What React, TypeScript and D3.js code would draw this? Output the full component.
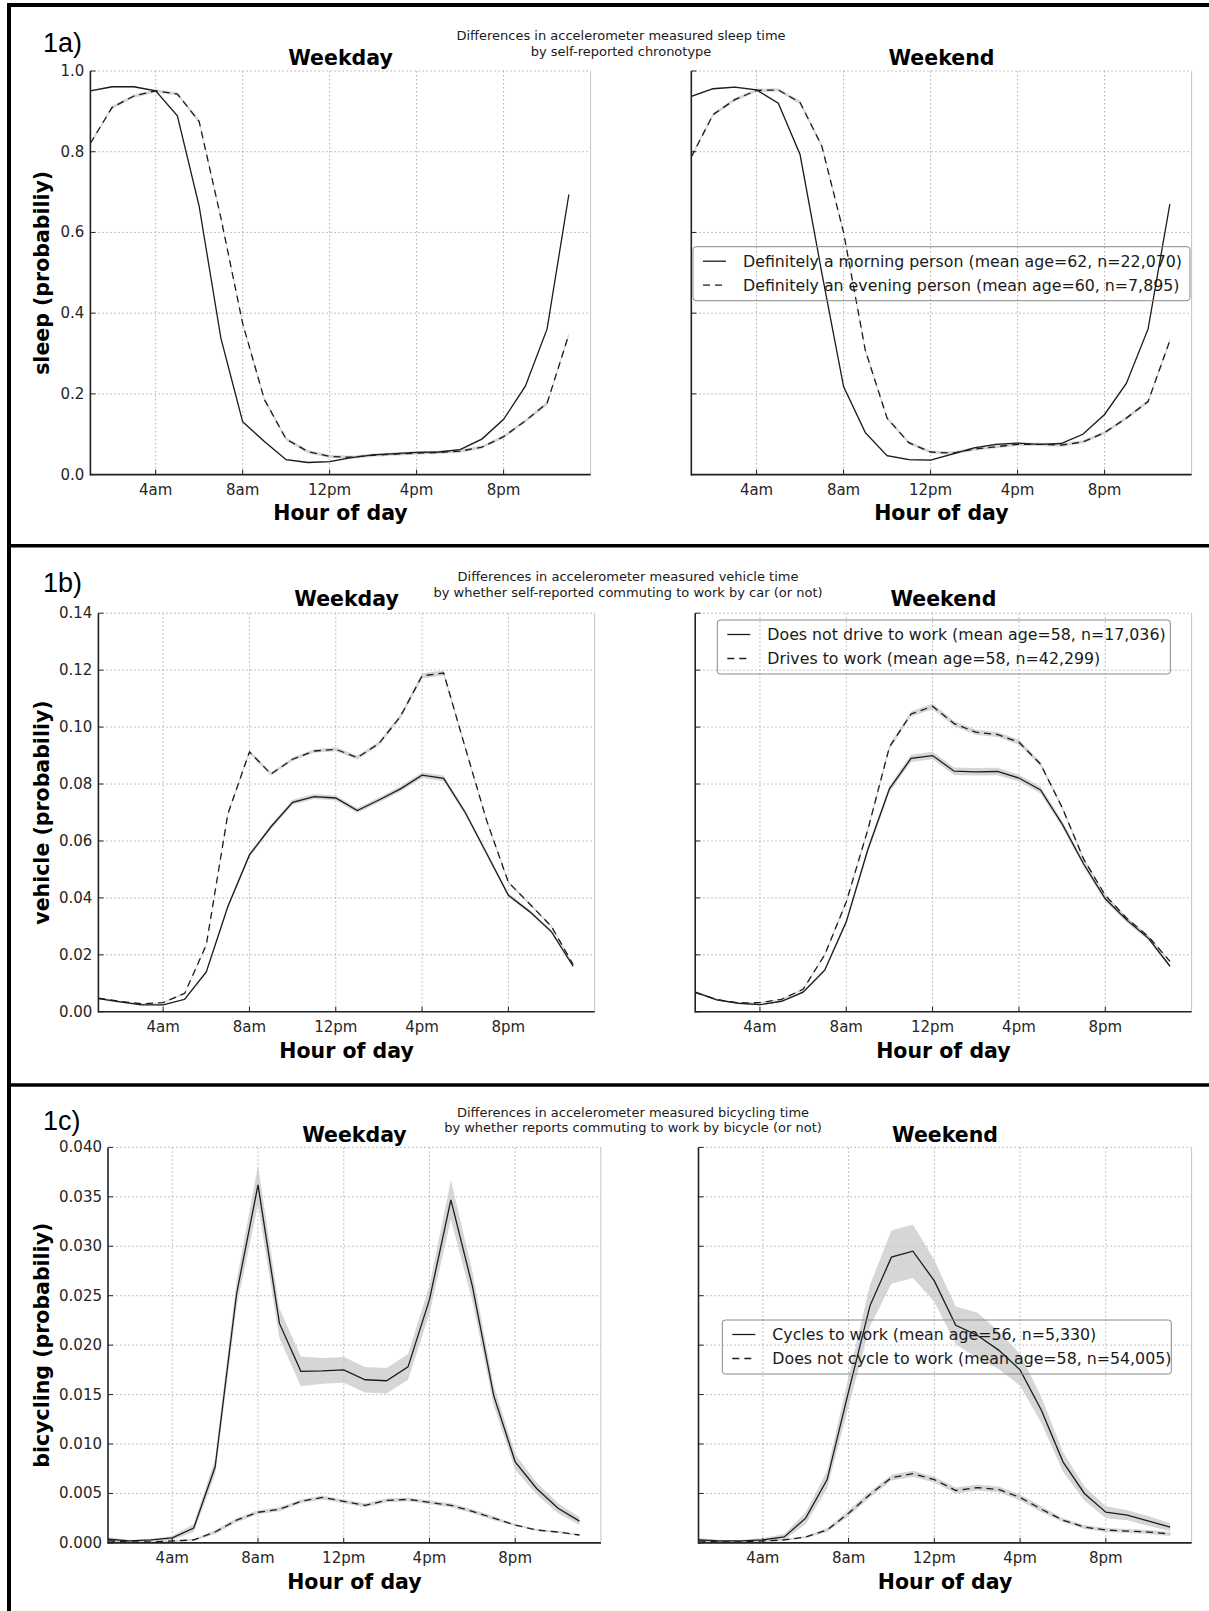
import React from 'react'
import * as d3 from 'd3'

// hour of day on the x axis (points plotted at 1..23)
const hours = [1, 2, 3, 4, 5, 6, 7, 8, 9, 10, 11, 12, 13, 14, 15, 16, 17, 18, 19, 20, 21, 22, 23]
const xTickHours = [4, 8, 12, 16, 20]
const xTickLabels = ['4am', '8am', '12pm', '4pm', '8pm']

// 1a) sleep
const sleepTicks = [0, 0.2, 0.4, 0.6, 0.8, 1.0]
const sleepWeekdayMorning = [0.951, 0.961, 0.961, 0.951, 0.889, 0.665, 0.338, 0.131, 0.082, 0.037, 0.030, 0.032, 0.042, 0.049, 0.052, 0.055, 0.056, 0.062, 0.088, 0.137, 0.219, 0.361, 0.694]
const sleepWeekdayEvening = [0.821, 0.910, 0.938, 0.951, 0.943, 0.875, 0.636, 0.375, 0.186, 0.088, 0.057, 0.045, 0.043, 0.048, 0.051, 0.053, 0.055, 0.058, 0.068, 0.094, 0.133, 0.177, 0.347]
const sleepWeekendMorning = [0.937, 0.956, 0.960, 0.953, 0.920, 0.793, 0.500, 0.218, 0.104, 0.047, 0.037, 0.036, 0.051, 0.066, 0.075, 0.078, 0.075, 0.077, 0.100, 0.149, 0.226, 0.361, 0.670]
const sleepWeekendEvening = [0.787, 0.892, 0.929, 0.952, 0.953, 0.922, 0.814, 0.600, 0.308, 0.140, 0.079, 0.056, 0.053, 0.063, 0.069, 0.075, 0.075, 0.073, 0.081, 0.104, 0.140, 0.181, 0.332]
const sleepMorningErr = [0.002, 0.002, 0.002, 0.002, 0.002, 0.003, 0.003, 0.003, 0.002, 0.002, 0.002, 0.002, 0.002, 0.002, 0.002, 0.002, 0.002, 0.002, 0.002, 0.002, 0.003, 0.003, 0.003]
const sleepEveningErr = [0.004, 0.004, 0.004, 0.004, 0.004, 0.005, 0.005, 0.005, 0.005, 0.004, 0.004, 0.004, 0.004, 0.004, 0.004, 0.004, 0.004, 0.004, 0.004, 0.004, 0.004, 0.005, 0.005]

// 1b) vehicle
const vehicleTicks = [0, 0.02, 0.04, 0.06, 0.08, 0.10, 0.12, 0.14]
const vehicleWeekdayNoDrive = [0.0046, 0.0035, 0.0024, 0.0024, 0.0044, 0.0140, 0.0370, 0.0551, 0.0650, 0.0736, 0.0756, 0.0751, 0.0707, 0.0744, 0.0783, 0.0831, 0.0820, 0.0700, 0.0555, 0.0409, 0.0351, 0.0281, 0.0160]
const vehicleWeekdayDrive = [0.0048, 0.0037, 0.0028, 0.0032, 0.0065, 0.0235, 0.0695, 0.0913, 0.0835, 0.0887, 0.0916, 0.0922, 0.0893, 0.0942, 0.1038, 0.1180, 0.1190, 0.0928, 0.0670, 0.0455, 0.0378, 0.0299, 0.0166]
const vehicleWeekendNoDrive = [0.0069, 0.0042, 0.0030, 0.0025, 0.0037, 0.0069, 0.0146, 0.0316, 0.0570, 0.0783, 0.0890, 0.0900, 0.0845, 0.0843, 0.0844, 0.0821, 0.0779, 0.0660, 0.0519, 0.0397, 0.0322, 0.0258, 0.0160]
const vehicleWeekendDrive = [0.0068, 0.0043, 0.0031, 0.0032, 0.0044, 0.0079, 0.0200, 0.0386, 0.0640, 0.0930, 0.1046, 0.1073, 0.1012, 0.0982, 0.0974, 0.0947, 0.0870, 0.0718, 0.0536, 0.0409, 0.0328, 0.0264, 0.0177]
const vehicleWeekdayNoDriveErr = [0.0003, 0.0003, 0.0002, 0.0002, 0.0003, 0.0005, 0.0007, 0.0008, 0.0008, 0.0009, 0.0009, 0.0009, 0.0009, 0.0009, 0.0009, 0.0010, 0.0010, 0.0009, 0.0008, 0.0007, 0.0006, 0.0005, 0.0004]
const vehicleWeekdayDriveErr = [0.0002, 0.0002, 0.0002, 0.0002, 0.0003, 0.0004, 0.0006, 0.0006, 0.0006, 0.0006, 0.0006, 0.0007, 0.0007, 0.0007, 0.0008, 0.0009, 0.0009, 0.0008, 0.0006, 0.0005, 0.0004, 0.0004, 0.0003]
const vehicleWeekendNoDriveErr = [0.0004, 0.0003, 0.0002, 0.0002, 0.0003, 0.0004, 0.0006, 0.0009, 0.0011, 0.0012, 0.0013, 0.0013, 0.0013, 0.0013, 0.0013, 0.0012, 0.0012, 0.0011, 0.0010, 0.0009, 0.0008, 0.0007, 0.0005]
const vehicleWeekendDriveErr = [0.0003, 0.0002, 0.0002, 0.0002, 0.0002, 0.0003, 0.0005, 0.0007, 0.0008, 0.0009, 0.0009, 0.0010, 0.0009, 0.0009, 0.0009, 0.0009, 0.0008, 0.0007, 0.0006, 0.0005, 0.0005, 0.0004, 0.0004]

// 1c) bicycling
const cyclingTicks = [0, 0.005, 0.010, 0.015, 0.020, 0.025, 0.030, 0.035, 0.040]
const cyclingWeekdayCycles = [0.00037, 0.0002, 0.0003, 0.0005, 0.0015, 0.0077, 0.0252, 0.0362, 0.0222, 0.01735, 0.0174, 0.0175, 0.0165, 0.0164, 0.0178, 0.0246, 0.0347, 0.0260, 0.0149, 0.0082, 0.0055, 0.0035, 0.0022]
const cyclingWeekdayNot = [0.0002, 0.0001, 0.0001, 0.0002, 0.0003, 0.0011, 0.0023, 0.0031, 0.0034, 0.0042, 0.0046, 0.0042, 0.0038, 0.0043, 0.0044, 0.0041, 0.0038, 0.0032, 0.0025, 0.0018, 0.0013, 0.0011, 0.0008]
const cyclingWeekendCycles = [0.0003, 0.0002, 0.0002, 0.0003, 0.0006, 0.0025, 0.0064, 0.0153, 0.0240, 0.0289, 0.0295, 0.0265, 0.0220, 0.0210, 0.0195, 0.0175, 0.0134, 0.0082, 0.0050, 0.0031, 0.0028, 0.0022, 0.0016]
const cyclingWeekendNot = [0.0002, 0.0001, 0.0001, 0.0002, 0.0003, 0.0006, 0.0013, 0.0030, 0.0049, 0.0066, 0.0070, 0.0064, 0.0053, 0.0056, 0.0054, 0.0046, 0.0034, 0.0023, 0.0016, 0.0013, 0.0012, 0.0011, 0.0009]
const cyclingWeekdayCyclesErr = [0.0002, 0.0001, 0.0001, 0.0002, 0.0004, 0.0008, 0.0013, 0.0020, 0.0015, 0.0015, 0.0013, 0.0013, 0.0013, 0.0013, 0.0013, 0.0014, 0.0020, 0.0015, 0.0010, 0.0008, 0.0006, 0.0005, 0.0004]
const cyclingWeekdayNotErr = [0.0001, 0.0001, 0.0001, 0.0001, 0.0001, 0.0002, 0.0002, 0.0002, 0.0002, 0.0002, 0.0002, 0.0002, 0.0002, 0.0002, 0.0002, 0.0002, 0.0002, 0.0002, 0.0002, 0.0001, 0.0001, 0.0001, 0.0001]
const cyclingWeekendCyclesErr = [0.0002, 0.0001, 0.0001, 0.0002, 0.0003, 0.0006, 0.0009, 0.0015, 0.0021, 0.0027, 0.0027, 0.0021, 0.0019, 0.0023, 0.0019, 0.0016, 0.0013, 0.0010, 0.0007, 0.0006, 0.0005, 0.0005, 0.0004]
const cyclingWeekendNotErr = [0.0001, 0.0001, 0.0001, 0.0001, 0.0001, 0.0001, 0.0002, 0.0003, 0.0003, 0.0003, 0.0003, 0.0003, 0.0003, 0.0003, 0.0003, 0.0003, 0.0003, 0.0002, 0.0002, 0.0002, 0.0002, 0.0002, 0.0002]

const FONT = '"DejaVu Sans", Verdana, sans-serif'
const INK = '#1c1c1c'

type Series = { values: number[]; err: number[]; dashed: boolean }

function Plot({ left, right, top, bottom, yMax, yTicks, fmt, showYLabels, title, titleY, series }: {
  left: number; right: number; top: number; bottom: number; yMax: number; yTicks: number[]
  fmt: (v: number) => string; showYLabels: boolean; title: string; titleY: number; series: Series[]
}) {
  const x = d3.scaleLinear().domain([1, 24]).range([left, right])
  const y = d3.scaleLinear().domain([0, yMax]).range([bottom, top])
  const line = d3.line<number>().x((_, i) => x(hours[i])).y(v => y(v))

  return (
    <g>
      {/* grid */}
      {yTicks.map(t => (
        <line key={`gy${t}`} x1={left} x2={right} y1={y(t)} y2={y(t)} stroke="#9a9a9a" strokeWidth={0.8} strokeDasharray="1.5,2.5" />
      ))}
      {xTickHours.map(h => (
        <line key={`gx${h}`} x1={x(h)} x2={x(h)} y1={top} y2={bottom} stroke="#9a9a9a" strokeWidth={0.8} strokeDasharray="1.5,2.5" />
      ))}
      {/* confidence bands */}
      {series.map((s, k) => {
        const area = d3.area<number>()
          .x((_, i) => x(hours[i]))
          .y0((v, i) => y(Math.max(0, v - s.err[i])))
          .y1((v, i) => y(v + s.err[i]))
        return <path key={`b${k}`} d={area(s.values) || ''} fill="#c8c8c8" fillOpacity={0.75} stroke="none" />
      })}
      {series.map((s, k) => (
        <path key={`l${k}`} d={line(s.values) || ''} fill="none" stroke={INK} strokeWidth={1.3}
          strokeDasharray={s.dashed ? '7,5' : undefined} />
      ))}
      {/* spines */}
      <line x1={right} x2={right} y1={top} y2={bottom} stroke="#c4c4c4" strokeWidth={1} />
      <line x1={left} x2={left} y1={top} y2={bottom + 0.8} stroke="#222" strokeWidth={1.6} />
      <line x1={left} x2={right} y1={bottom} y2={bottom} stroke="#222" strokeWidth={1.6} />
      {/* ticks */}
      {yTicks.map(t => (
        <g key={`ty${t}`}>
          <line x1={left} x2={left + 5} y1={y(t)} y2={y(t)} stroke="#222" strokeWidth={1} />
          {showYLabels && (
            <text x={left - 6} y={y(t) + 5} textAnchor="end" fontSize={15} fill="#262626" fontFamily={FONT}>{fmt(t)}</text>
          )}
        </g>
      ))}
      {xTickHours.map((h, i) => (
        <g key={`tx${h}`}>
          <line x1={x(h)} x2={x(h)} y1={bottom} y2={bottom - 5} stroke="#222" strokeWidth={1} />
          <text x={x(h)} y={bottom + 20.5} textAnchor="middle" fontSize={15} fill="#262626" fontFamily={FONT}>{xTickLabels[i]}</text>
        </g>
      ))}
      <text x={(left + right) / 2} y={titleY} textAnchor="middle" fontSize={20.5} fontWeight="bold" fill="#000" fontFamily={FONT}>{title}</text>
    </g>
  )
}

function Legend({ left, top, width, labels }: { left: number; top: number; width: number; labels: string[] }) {
  return (
    <g>
      <rect x={left} y={top} width={width} height={54} rx={3} fill="none" stroke="#8a8a8a" strokeWidth={1} />
      {labels.map((label, i) => {
        const cy = top + 14.5 + i * 24
        return (
          <g key={label}>
            <line x1={left + 10} x2={left + 33} y1={cy} y2={cy} stroke={INK} strokeWidth={1.3} strokeDasharray={i === 1 ? '7,5' : undefined} />
            <text x={left + 50} y={cy + 5.5} fontSize={15.8} fill="#1a1a1a" fontFamily={FONT}>{label}</text>
          </g>
        )
      })}
    </g>
  )
}

const rows = [
  {
    tag: '1a)', tagY: 52,
    sup: ['Differences in accelerometer measured sleep time', 'by self-reported chronotype'], supX: 621, supY: 40,
    ylabel: 'sleep (probabiliy)', yMax: 1.0, yTicks: sleepTicks, fmt: d3.format('.1f'),
    top: 71, bottom: 474.6, titleY: 65, xlabelY: 520,
    weekday: { left: 90.4, right: 590.6, series: [
      { values: sleepWeekdayMorning, err: sleepMorningErr, dashed: false },
      { values: sleepWeekdayEvening, err: sleepEveningErr, dashed: true }] },
    weekend: { left: 691.3, right: 1191.6, series: [
      { values: sleepWeekendMorning, err: sleepMorningErr, dashed: false },
      { values: sleepWeekendEvening, err: sleepEveningErr, dashed: true }] },
    legend: { left: 693, top: 246.7, width: 497, labels: ['Definitely a morning person (mean age=62, n=22,070)', 'Definitely an evening person (mean age=60, n=7,895)'] }
  },
  {
    tag: '1b)', tagY: 592,
    sup: ['Differences in accelerometer measured vehicle time', 'by whether self-reported commuting to work by car (or not)'], supX: 628, supY: 581,
    ylabel: 'vehicle (probabiliy)', yMax: 0.14, yTicks: vehicleTicks, fmt: d3.format('.2f'),
    top: 613.2, bottom: 1011.8, titleY: 606, xlabelY: 1057.7,
    weekday: { left: 98.4, right: 594.7, series: [
      { values: vehicleWeekdayNoDrive, err: vehicleWeekdayNoDriveErr, dashed: false },
      { values: vehicleWeekdayDrive, err: vehicleWeekdayDriveErr, dashed: true }] },
    weekend: { left: 695.2, right: 1191.6, series: [
      { values: vehicleWeekendNoDrive, err: vehicleWeekendNoDriveErr, dashed: false },
      { values: vehicleWeekendDrive, err: vehicleWeekendDriveErr, dashed: true }] },
    legend: { left: 717.3, top: 620, width: 453, labels: ['Does not drive to work (mean age=58, n=17,036)', 'Drives to work (mean age=58, n=42,299)'] }
  },
  {
    tag: '1c)', tagY: 1130,
    sup: ['Differences in accelerometer measured bicycling time', 'by whether reports commuting to work by bicycle (or not)'], supX: 633, supY: 1116.5,
    ylabel: 'bicycling (probabiliy)', yMax: 0.04, yTicks: cyclingTicks, fmt: d3.format('.3f'),
    top: 1147.4, bottom: 1542.9, titleY: 1142, xlabelY: 1589,
    weekday: { left: 108, right: 600.9, series: [
      { values: cyclingWeekdayCycles, err: cyclingWeekdayCyclesErr, dashed: false },
      { values: cyclingWeekdayNot, err: cyclingWeekdayNotErr, dashed: true }] },
    weekend: { left: 698.5, right: 1191.6, series: [
      { values: cyclingWeekendCycles, err: cyclingWeekendCyclesErr, dashed: false },
      { values: cyclingWeekendNot, err: cyclingWeekendNotErr, dashed: true }] },
    legend: { left: 722.3, top: 1320, width: 449, labels: ['Cycles to work (mean age=56, n=5,330)', 'Does not cycle to work (mean age=58, n=54,005)'] }
  }
]

export default function App() {
  return (
    <svg width={1209} height={1611} viewBox="0 0 1209 1611" style={{ position: 'absolute', left: 0, top: 0, background: '#fff' }}>
      <rect x={0} y={0} width={1209} height={1611} fill="#fff" />
      {rows.map(row => {
        const midY = (row.top + row.bottom) / 2
        return (
          <g key={row.tag}>
            <text x={43} y={row.tagY} fontSize={27} fill="#000" fontFamily='"Liberation Sans", Arial, sans-serif'>{row.tag}</text>
            {row.sup.map((s, i) => (
              <text key={s} x={row.supX} y={row.supY + i * 15.5} textAnchor="middle" fontSize={13} fill="#1a1a1a" fontFamily={FONT}>{s}</text>
            ))}
            <text transform={`translate(41.5,${midY}) rotate(-90)`} textAnchor="middle" dominantBaseline="central" fontSize={20.5} fontWeight="bold" fill="#000" fontFamily={FONT}>{row.ylabel}</text>
            <Plot left={row.weekday.left} right={row.weekday.right} top={row.top} bottom={row.bottom} yMax={row.yMax}
              yTicks={row.yTicks} fmt={row.fmt} showYLabels title="Weekday" titleY={row.titleY} series={row.weekday.series} />
            <Plot left={row.weekend.left} right={row.weekend.right} top={row.top} bottom={row.bottom} yMax={row.yMax}
              yTicks={row.yTicks} fmt={row.fmt} showYLabels={false} title="Weekend" titleY={row.titleY} series={row.weekend.series} />
            <text x={(row.weekday.left + row.weekday.right) / 2} y={row.xlabelY} textAnchor="middle" fontSize={20.5} fontWeight="bold" fill="#000" fontFamily={FONT}>Hour of day</text>
            <text x={(row.weekend.left + row.weekend.right) / 2} y={row.xlabelY} textAnchor="middle" fontSize={20.5} fontWeight="bold" fill="#000" fontFamily={FONT}>Hour of day</text>
            <Legend {...row.legend} />
          </g>
        )
      })}
      {/* figure frame */}
      <line x1={9} x2={9} y1={3} y2={1611} stroke="#000" strokeWidth={4} />
      <line x1={7} x2={1209} y1={5} y2={5} stroke="#000" strokeWidth={4} />
      <line x1={7} x2={1209} y1={545.8} y2={545.8} stroke="#000" strokeWidth={3.5} />
      <line x1={7} x2={1209} y1={1085} y2={1085} stroke="#000" strokeWidth={3.5} />
    </svg>
  )
}
